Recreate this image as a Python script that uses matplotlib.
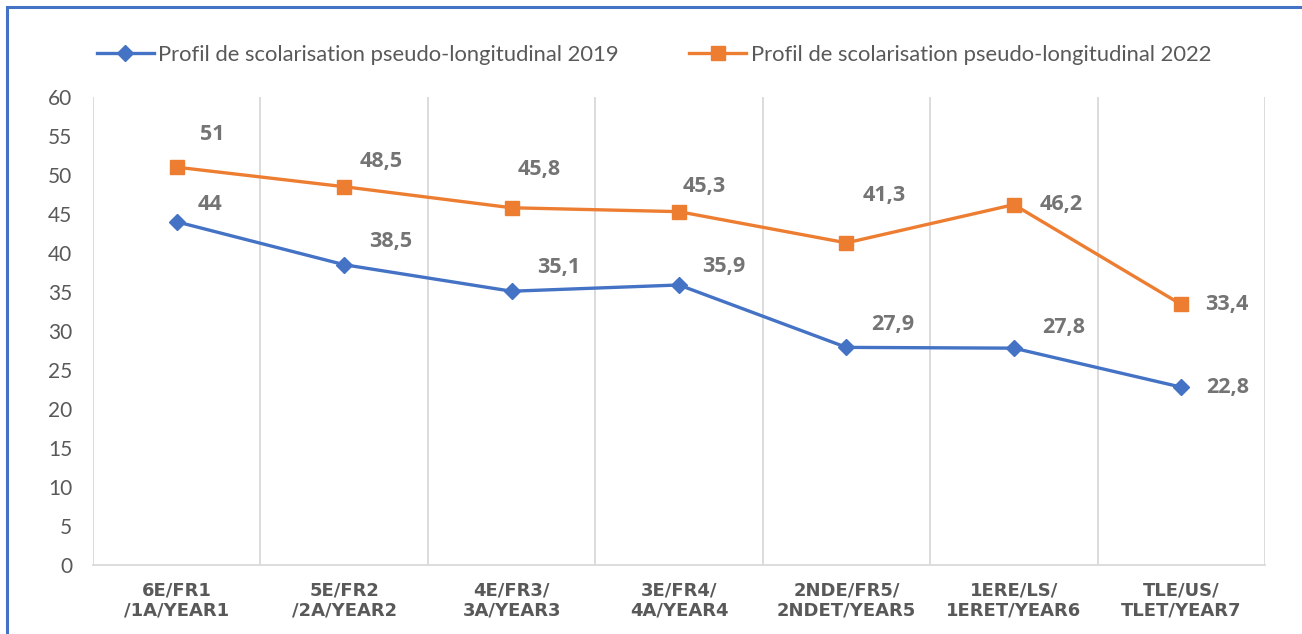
import matplotlib
matplotlib.use("Agg")
import matplotlib.pyplot as plt
from matplotlib.patches import Rectangle

# ---------------------------------------------------------------------------
# Data
# ---------------------------------------------------------------------------
categories = [
    "6E/FR1\n/1A/YEAR1",
    "5E/FR2\n/2A/YEAR2",
    "4E/FR3/\n3A/YEAR3",
    "3E/FR4/\n4A/YEAR4",
    "2NDE/FR5/\n2NDET/YEAR5",
    "1ERE/LS/\n1ERET/YEAR6",
    "TLE/US/\nTLET/YEAR7",
]
values_2019 = [44, 38.5, 35.1, 35.9, 27.9, 27.8, 22.8]
values_2022 = [51, 48.5, 45.8, 45.3, 41.3, 46.2, 33.4]
label_2019 = "Profil de scolarisation pseudo-longitudinal 2019"
label_2022 = "Profil de scolarisation pseudo-longitudinal 2022"
y_ticks = list(range(0, 61, 5))

# label offsets (pixels, text centre relative to point) - layout only
offsets_2019 = [(33, 17), (47, 23), (47, 24), (45, 18), (46, 23), (50, 21), (46, 0)]
offsets_2022 = [(36, 33), (37, 25), (28, 38), (25, 25), (38, 47), (47, 0), (46, 0)]

BLUE = "#4472C4"
ORANGE = "#ED7D31"
GREY_TXT = "#595959"
LABEL_TXT = "#747474"
GRID = "#D9D9D9"

W, H = 1302, 634
fig = plt.figure(figsize=(W / 100, H / 100), dpi=100)
fig.patch.set_facecolor("white")
ax = fig.add_axes([93 / W, 1 - 565 / H, (1265 - 93) / W, (565 - 97) / H])

x = list(range(len(categories)))
ax.plot(x, values_2019, color=BLUE, lw=2.4, marker="D", ms=8.5,
        mec=BLUE, mfc=BLUE, label=label_2019, zorder=3)
ax.plot(x, values_2022, color=ORANGE, lw=2.4, marker="s", ms=10.5,
        mec=ORANGE, mfc=ORANGE, label=label_2022, zorder=3)


def fmt(v):
    return f"{v:g}".replace(".", ",")


for vals, offs in [(values_2019, offsets_2019), (values_2022, offsets_2022)]:
    for xi, v, off in zip(x, vals, offs):
        ax.annotate(fmt(v), (xi, v), xytext=(off[0], off[1]),
                    textcoords="offset pixels", ha="center", va="center",
                    fontsize=15.5, fontweight="bold", color=LABEL_TXT,
                    family="Open Sans")

ax.set_xlim(-0.5, len(categories) - 0.5)
ax.set_ylim(0, 60)
ax.set_yticks(y_ticks)
ax.set_yticklabels([str(t) for t in y_ticks], fontsize=15, color=GREY_TXT,
                   family="Lato")
ax.set_xticks(x)
ax.set_xticklabels(categories, fontsize=13, fontweight="bold",
                   color=GREY_TXT, family="DejaVu Sans", linespacing=1.15)
ax.tick_params(axis="both", length=0)
ax.tick_params(axis="y", pad=15)
ax.tick_params(axis="x", pad=12)

for b in [i - 0.5 for i in range(len(categories) + 1)]:
    ax.axvline(b, color=GRID, lw=1.3, zorder=1)
for s in ["top", "left", "right"]:
    ax.spines[s].set_visible(False)
ax.spines["bottom"].set_color(GRID)
ax.spines["bottom"].set_linewidth(1.3)

fig.legend(loc="center", bbox_to_anchor=(654 / W, 1 - 55 / H), ncol=2,
           frameon=False, prop={"family": "Lato", "size": 15.8},
           labelcolor=GREY_TXT, handlelength=2.6, handletextpad=0.2,
           columnspacing=3.2)

# outer blue frame of the figure box
fig.add_artist(Rectangle((7 / W, -0.05), 1.2, 1.05 - 7 / H,
                         transform=fig.transFigure, fill=False,
                         edgecolor=BLUE, lw=2.2))

fig.savefig("out.png", dpi=100, facecolor="white")
